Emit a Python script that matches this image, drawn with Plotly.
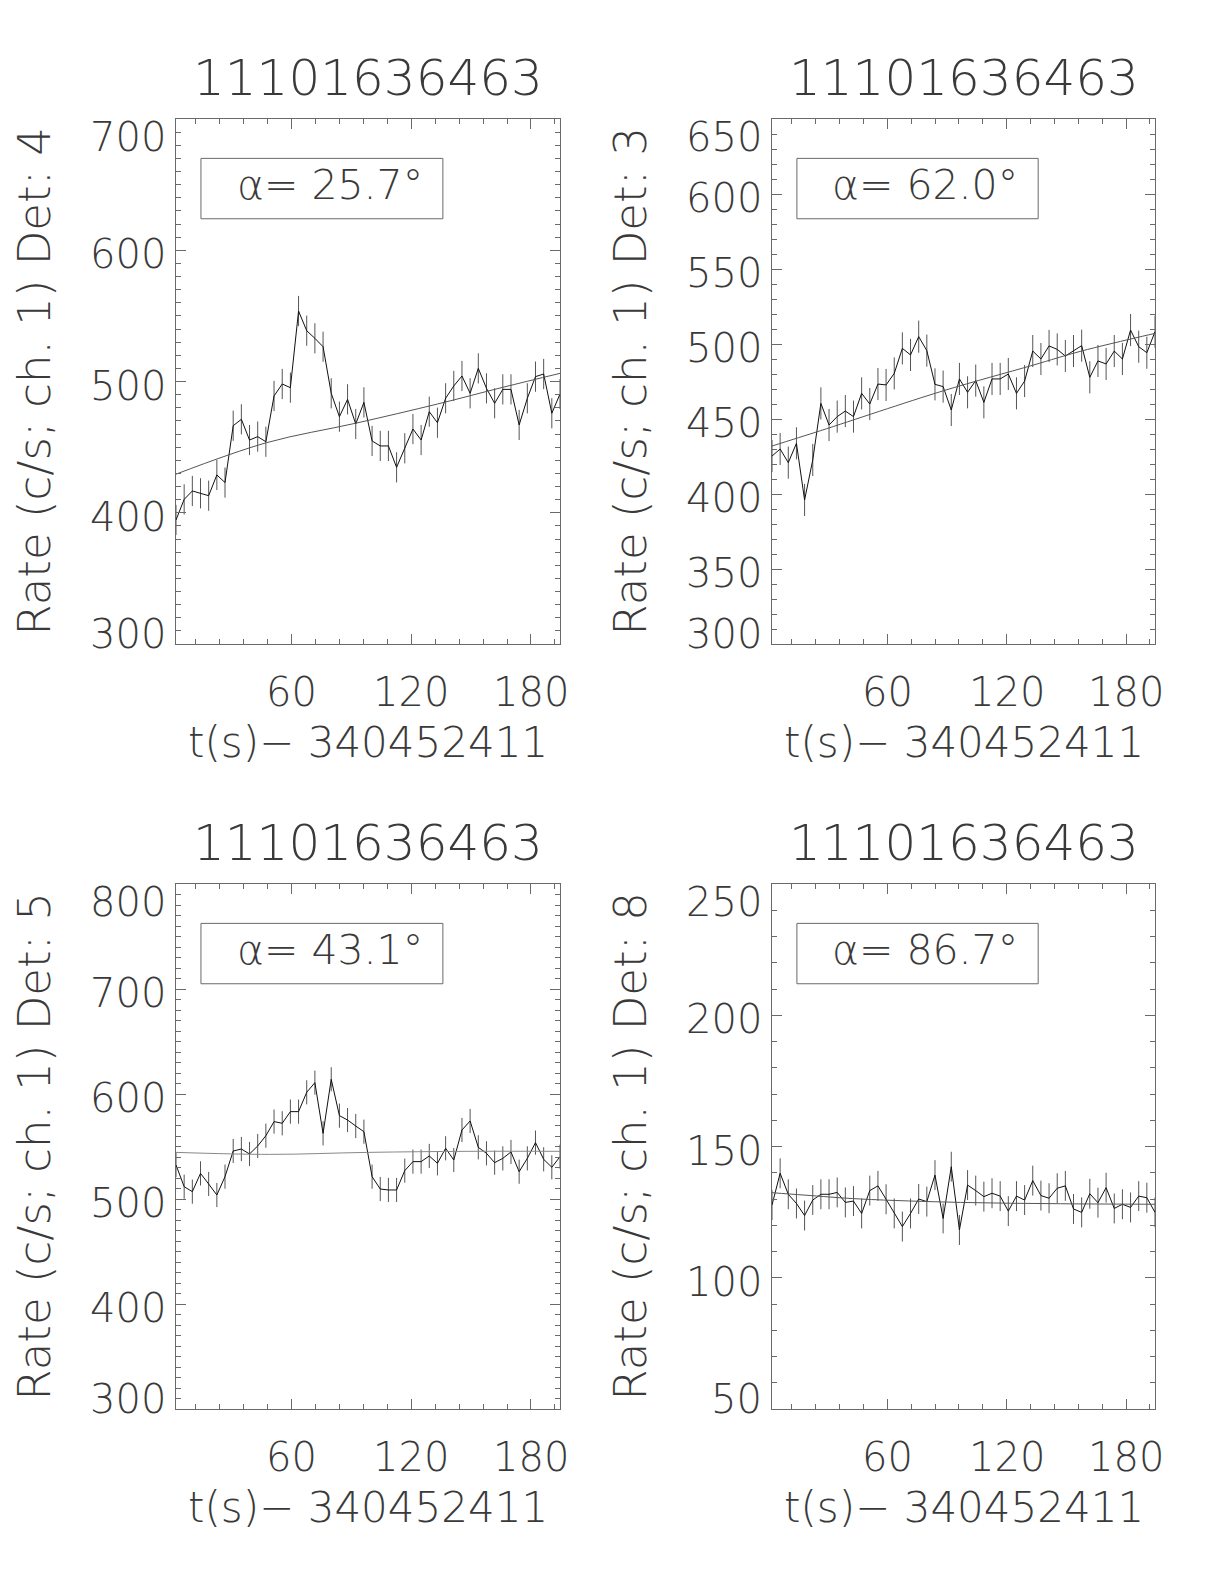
import plotly.graph_objects as go

W, H = 1224, 1584

# time bin centres (s after 340452411)
TIME = [2.05, 6.14, 10.24, 14.34, 18.43, 22.53, 26.62, 30.72, 34.82, 38.91,
        43.01, 47.10, 51.20, 55.30, 59.39, 63.49, 67.58, 71.68, 75.78, 79.87,
        83.97, 88.06, 92.16, 96.26, 100.35, 104.45, 108.54, 112.64, 116.74, 120.83,
        124.93, 129.02, 133.12, 137.22, 141.31, 145.41, 149.50, 153.60, 157.70, 161.79,
        165.89, 169.98, 174.08, 178.18, 182.27, 186.37, 190.46, 194.56]

RATE_DET4 = [394.5, 410.2, 416.6, 414.8, 413.0, 428.8, 423.0, 466.3, 471.2, 455.4,
             458.0, 454.1, 489.0, 498.1, 495.3, 553.7, 538.7, 532.9, 526.5, 491.0,
             473.2, 486.4, 467.6, 484.1, 454.7, 450.9, 450.9, 434.6, 449.1, 463.8,
             455.4, 477.0, 468.6, 487.2, 496.6, 504.2, 491.0, 510.0, 494.8, 483.4,
             494.0, 494.0, 466.9, 487.2, 503.7, 505.7, 475.8, 490.5]
RATE_DET3 = [425.3, 430.0, 420.9, 433.8, 396.0, 422.7, 460.4, 446.0, 451.6, 455.3,
             451.6, 467.1, 460.0, 473.3, 472.7, 480.4, 497.1, 492.7, 504.9, 495.6,
             473.1, 471.6, 456.0, 476.7, 467.8, 475.6, 461.1, 476.7, 476.7, 480.0,
             467.1, 475.3, 495.3, 490.0, 498.7, 496.4, 492.0, 495.3, 498.9, 477.8,
             488.7, 486.7, 495.3, 490.0, 509.3, 498.2, 494.2, 508.2]
RATE_DET5 = [532.4, 511.7, 507.0, 524.4, 514.3, 503.8, 521.3, 545.7, 547.6, 542.9,
             550.5, 560.3, 573.7, 572.1, 583.2, 583.2, 601.6, 610.8, 562.5, 614.0,
             579.4, 575.2, 569.5, 564.1, 521.3, 509.5, 508.6, 508.6, 527.0, 535.6,
             535.6, 541.0, 534.0, 548.3, 537.1, 565.7, 574.3, 549.2, 543.5, 534.6,
             538.7, 544.8, 526.0, 538.7, 553.7, 537.8, 530.2, 540.3]
RATE_DET8 = [127.7, 139.8, 131.8, 128.3, 123.7, 129.6, 131.8, 131.8, 132.5, 128.7,
             129.2, 124.5, 133.2, 135.0, 129.9, 124.5, 119.5, 124.5, 130.0, 129.0,
             139.1, 122.6, 142.3, 118.2, 135.3, 133.2, 130.9, 132.2, 131.1, 125.4,
             131.1, 129.6, 137.0, 131.3, 130.3, 134.1, 135.0, 126.2, 124.9, 132.0,
             128.6, 134.3, 126.4, 128.0, 126.8, 131.1, 130.5, 124.9]

# 1-sigma errors (c/s)
ERR_DET4, ERR_DET3, ERR_DET5, ERR_DET8 = 11.5, 10.7, 11.5, 5.7

# background fit curves
FIT_T_DET4 = [2.05, 47.5, 92.4, 133.3, 166.0, 194.56]
FIT_DET4 = [429.4, 453.4, 468.3, 482.9, 495.6, 506.2]
FIT_T_DET3 = [2.05, 26.4, 87.9, 133.0, 157.6, 194.56]
FIT_DET3 = [432.0, 442.2, 468.7, 485.8, 495.3, 507.1]
FIT_T_DET5 = [2.05, 49.0, 98.0, 148.0, 194.56]
FIT_DET5 = [544.4, 542.5, 544.4, 545.4, 545.4]
FIT_T_DET8 = [2.05, 18.1, 46.5, 96.8, 147.0, 194.56]
FIT_DET8 = [132.4, 131.5, 130.0, 128.7, 128.2, 128.0]

ALPHA = ['25.7', '62.0', '43.1', '86.7']
DETS = ['4', '3', '5', '8']
TITLE = '11101636463'
XTITLE = 't(s)\u2212 340452411'
XTICKS = [60, 120, 180]
YTICKS_DET4 = [300, 400, 500, 600, 700]
YTICKS_DET3 = [300, 350, 400, 450, 500, 550, 600, 650]
YTICKS_DET5 = [300, 400, 500, 600, 700, 800]
YTICKS_DET8 = [50, 100, 150, 200, 250]

panels = [
    dict(box=(176, 119, 560, 644), rate=RATE_DET4, err=ERR_DET4, ft=FIT_T_DET4, fit=FIT_DET4,
         yticks=YTICKS_DET4, minor=10, fitcol='#555'),
    dict(box=(772, 119, 1155, 644), rate=RATE_DET3, err=ERR_DET3, ft=FIT_T_DET3, fit=FIT_DET3,
         yticks=YTICKS_DET3, minor=10, fitcol='#555'),
    dict(box=(176, 884, 560, 1409), rate=RATE_DET5, err=ERR_DET5, ft=FIT_T_DET5, fit=FIT_DET5,
         yticks=YTICKS_DET5, minor=10, fitcol='#888'),
    dict(box=(772, 884, 1155, 1409), rate=RATE_DET8, err=ERR_DET8, ft=FIT_T_DET8, fit=FIT_DET8,
         yticks=YTICKS_DET8, minor=10, fitcol='#555'),
]

FONT = 'DejaVu Sans'
TXT = '#3a3a3a'
AX = '#6a6a6a'


def font(size):
    return dict(family=FONT, size=size, color=TXT, weight=200)


fig = go.Figure()
layout = dict(width=W, height=H, margin=dict(l=0, r=0, t=0, b=0),
              paper_bgcolor='white', plot_bgcolor='white', showlegend=False)
annotations = []
shapes = []

for i, p in enumerate(panels):
    n = '' if i == 0 else str(i + 1)
    xa, ya = 'x' + n, 'y' + n
    x0, y0, x1, y1 = p['box']
    yt = p['yticks']

    fig.add_trace(go.Scatter(
        x=TIME, y=p['rate'], mode='lines', xaxis=xa, yaxis=ya,
        line=dict(color='#111', width=1),
        error_y=dict(type='constant', value=p['err'], width=0, thickness=1, color='#555'),
    ))
    fig.add_trace(go.Scatter(
        x=p['ft'], y=p['fit'], mode='lines', xaxis=xa, yaxis=ya,
        line=dict(color=p['fitcol'], width=1, shape='spline'),
    ))

    axis_common = dict(showgrid=False, zeroline=False, showline=True, linecolor=AX,
                       linewidth=1, mirror='ticks', ticks='inside', ticklen=10,
                       tickcolor=AX, showticklabels=False)
    layout['xaxis' + n] = dict(axis_common, domain=[x0 / W, x1 / W], anchor=ya,
                               range=[TIME[0], TIME[-1]], tick0=0, dtick=60,
                               minor=dict(ticks='inside', ticklen=5, dtick=12, tick0=0,
                                          tickcolor=AX))
    layout['yaxis' + n] = dict(axis_common, domain=[1 - y1 / H, 1 - y0 / H], anchor=xa,
                               range=[yt[0], yt[-1]], tickvals=yt,
                               minor=dict(ticks='inside', ticklen=5, dtick=p['minor'],
                                          tick0=0, tickcolor=AX))

    # tick labels, IDL style (end labels pulled inside the axis)
    for k, v in enumerate(yt):
        shift = -4
        if k == 0:
            shift = 10
        elif k == len(yt) - 1:
            shift = -18
        annotations.append(dict(text=str(v), xref=xa + ' domain', yref=ya, x=0, y=v,
                                xanchor='right', yanchor='middle', xshift=-8, yshift=shift,
                                showarrow=False, font=font(40)))
    for v in XTICKS:
        annotations.append(dict(text=str(v), xref=xa, yref=ya + ' domain', x=v, y=0,
                                xanchor='center', yanchor='middle', yshift=-48,
                                showarrow=False, font=font(40)))

    annotations.append(dict(text=XTITLE, xref=xa + ' domain', yref=ya + ' domain', x=0.5, y=0,
                            xanchor='center', yanchor='middle', yshift=-98,
                            showarrow=False, font=font(42)))
    annotations.append(dict(text=TITLE, xref=xa + ' domain', yref='paper', x=0.5,
                            y=1 - (y0 - 41.5) / H, xanchor='center', yanchor='middle',
                            showarrow=False, font=font(50)))
    annotations.append(dict(text='Rate (c/s; ch. 1) Det: ' + DETS[i], xref='paper',
                            yref=ya + ' domain', x=(x0 - 142) / W, y=0.5, textangle=-90,
                            xanchor='center', yanchor='middle', showarrow=False,
                            font=font(45)))

    shapes.append(dict(type='rect', xref=xa + ' domain', yref=ya + ' domain',
                       x0=0.065, x1=0.695, y0=0.81, y1=0.925,
                       line=dict(color=AX, width=1)))
    annotations.append(dict(text='\u03b1= ' + ALPHA[i] + '\u00b0', xref=xa + ' domain',
                            yref=ya + ' domain', x=0.40, y=0.874, xanchor='center',
                            yanchor='middle', showarrow=False, font=font(41)))

layout['annotations'] = annotations
layout['shapes'] = shapes
fig.update_layout(**layout)

fig.write_html("out.html", config={'displayModeBar': False},
               post_script="document.body.style.margin='0';")
